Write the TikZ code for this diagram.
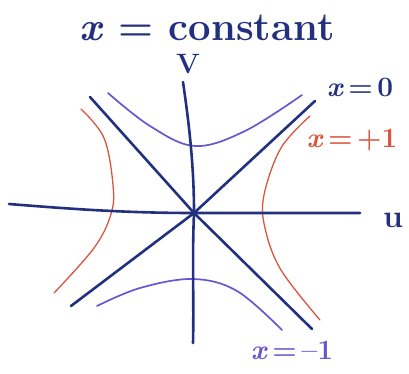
\documentclass[tikz,border=0pt]{standalone}
\usepackage{tikz}
\usetikzlibrary{positioning}
\definecolor{penNavy}{HTML}{22307F}
\definecolor{penPurple}{HTML}{6A55CF}
\definecolor{penRed}{HTML}{D8553F}
\newcommand{\vx}{\textit{x}}

\begin{document}
\begin{tikzpicture}[x=1pt, y=-1pt, line cap=round, line join=round,
    axis/.style={draw=penNavy, line width=2.6pt},
    hyp/.style={line width=1.7pt},
    lbl/.style={inner sep=0pt, font=\fontsize{28}{32}\selectfont\bfseries}]
    \useasboundingbox (0,0) rectangle (409,373);
    % axis ends
    \coordinate (o) at (194,213);
    \coordinate (ul) at (9,204);
    \coordinate (ur) at (360,213);
    \coordinate (vt) at (183,82);
    \coordinate (vb) at (193,343);
    \coordinate (tl) at (90,97);
    \coordinate (br) at (312,329);
    \coordinate (tr) at (315,101);
    \coordinate (bl) at (71,306);
    % hyperbolas
    \draw[hyp, draw=penRed, line width=1.3pt] plot[smooth, tension=0.6] coordinates {(81,109) (104,138) (113,185) (111,214) (94,248) (54,293)};
    \draw[hyp, draw=penRed, line width=1.3pt] plot[smooth, tension=0.6] coordinates {(310,116) (281,148) (264,195) (265,228) (281,270) (320,320)};
    \draw[hyp, draw=penPurple] plot[smooth, tension=0.6] coordinates {(108,93) (150,126) (195,146) (245,131) (302,95)};
    \draw[hyp, draw=penPurple] plot[smooth, tension=0.6] coordinates {(97,306) (140,288) (193,279) (237,291) (282,330)};
    % axes and asymptotes
    \draw[axis] (ul) .. controls (60,208) and (120,213) .. (o) -- (ur);
    \draw[axis] (vt) .. controls (190,130) and (194,170) .. (o) .. controls (192,260) and (194,300) .. (vb);
    \draw[axis] (tl) -- (o) -- (br);
    \draw[axis] (tr) -- (o) -- (bl);
    % labels
    \node[lbl, text=penNavy, font=\fontsize{40}{46}\selectfont\bfseries] (title) at (207,28) {\vx{} = constant};
    \node[lbl, text=penNavy] (vlab) at (188,64) {V};
    \node[lbl, text=penNavy, font=\fontsize{32}{36}\selectfont\bfseries] (ulab) at (393,220) {u};
    \node[lbl, text=penNavy] (x0) at (360,87) {\vx\,=\,0};
    \node[lbl, text=penRed] (xp) at (352,140) {\vx\,=\,+1};
    \node[lbl, text=penPurple] (xm) at (292,350) {\vx\,=\,--1};
\end{tikzpicture}
\end{document}
